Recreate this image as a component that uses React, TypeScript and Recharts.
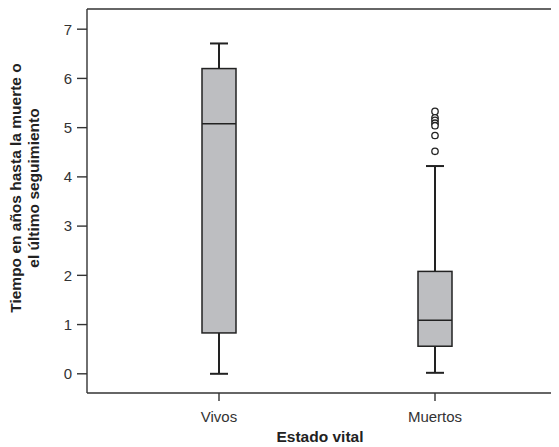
import {
  Bar,
  ComposedChart,
  ReferenceLine,
  Scatter,
  XAxis,
  YAxis,
} from "recharts";

// five-number summary per group (years)
const CATEGORIES = ["Vivos", "Muertos"];
const WHISKER_LOW = [0, 0.02];
const Q1 = [0.83, 0.56];
const MEDIAN = [5.08, 1.09];
const Q3 = [6.2, 2.08];
const WHISKER_HIGH = [6.71, 4.22];
const OUTLIER_GROUP = "Muertos";
const OUTLIER_VALUES = [5.33, 5.2, 5.15, 5.09, 5.04, 4.84, 4.52];
const Y_TICKS = [0, 1, 2, 3, 4, 5, 6, 7];
const Y_DOMAIN = [-0.39, 7.41];

const FONT = "'Liberation Sans', Arial, Helvetica, sans-serif";
const INK = "#222";
const AXIS_INK = "#333";
const BOX_FILL = "#bdbec1";

const boxData = CATEGORIES.map((estado, i) => ({
  estado,
  low: WHISKER_LOW[i],
  q1: Q1[i],
  median: MEDIAN[i],
  q3: Q3[i],
  high: WHISKER_HIGH[i],
}));

const outlierData = OUTLIER_VALUES.map((t) => ({ estado: OUTLIER_GROUP, t }));

function BoxShape(props: any) {
  const { x, y, width, height, payload } = props;
  if (payload == null || width == null) return null;
  const { low, high, q1, median, q3 } = payload;
  const top = Math.min(y, y + height);
  const k = Math.abs(height) / (high - low || 1);
  const py = (v: number) => top + (high - v) * k;
  const cx = x + width / 2;
  const cap = 9;
  return (
    <g>
      <line x1={cx} x2={cx} y1={py(high)} y2={py(q3)} stroke={INK} strokeWidth={2} />
      <line x1={cx} x2={cx} y1={py(q1)} y2={py(low)} stroke={INK} strokeWidth={2} />
      <line x1={cx - cap} x2={cx + cap} y1={py(high)} y2={py(high)} stroke={INK} strokeWidth={2} />
      <line x1={cx - cap} x2={cx + cap} y1={py(low)} y2={py(low)} stroke={INK} strokeWidth={2} />
      <rect
        x={x}
        y={py(q3)}
        width={width}
        height={py(q1) - py(q3)}
        fill={BOX_FILL}
        stroke={INK}
        strokeWidth={1.5}
      />
      <line x1={x} x2={x + width} y1={py(median)} y2={py(median)} stroke={INK} strokeWidth={1.5} />
    </g>
  );
}

function OutlierDot(props: any) {
  const { cx, cy } = props;
  if (cx == null || cy == null) return null;
  return <circle cx={cx} cy={cy} r={3.2} fill="#fff" stroke={INK} strokeWidth={1.3} />;
}

function YTitle() {
  return (
    <g fontFamily={FONT} fontWeight="bold" fontSize={15.5} fill={INK} textAnchor="middle">
      <text transform="translate(13,180) rotate(-90)">Tiempo en años hasta la muerte o</text>
      <text transform="translate(31,180) rotate(-90)">el último seguimiento</text>
    </g>
  );
}

export default function App() {
  return (
    <ComposedChart
      width={551}
      height={439}
      data={boxData}
      margin={{ top: 1, right: 0, bottom: 0, left: 0 }}
      style={{ fontFamily: FONT }}
    >
      <XAxis
        dataKey="estado"
        type="category"
        allowDuplicatedCategory={false}
        padding={{ left: 24, right: 16 }}
        height={54}
        stroke={AXIS_INK}
        strokeWidth={1.4}
        tickSize={8}
        tickMargin={10}
        tick={{ fill: AXIS_INK, fontSize: 15 }}
        label={{
          value: "Estado vital",
          position: "insideBottom",
          offset: 5,
          dx: -3,
          fill: INK,
          fontSize: 15.5,
          fontWeight: "bold",
        }}
      />
      <YAxis
        type="number"
        domain={Y_DOMAIN}
        ticks={Y_TICKS}
        width={79}
        stroke={AXIS_INK}
        strokeWidth={1.4}
        tickSize={10}
        tickMargin={5}
        tick={{ fill: AXIS_INK, fontSize: 15 }}
        allowDataOverflow
      />
      <ReferenceLine y={Y_DOMAIN[1]} stroke={AXIS_INK} strokeWidth={1.4} />
      <Bar
        dataKey={(d: any) => [d.low, d.high]}
        barSize={34}
        shape={BoxShape}
        isAnimationActive={false}
      />
      <Scatter
        data={outlierData}
        dataKey="t"
        shape={OutlierDot}
        isAnimationActive={false}
      />
      <YTitle />
    </ComposedChart>
  );
}
